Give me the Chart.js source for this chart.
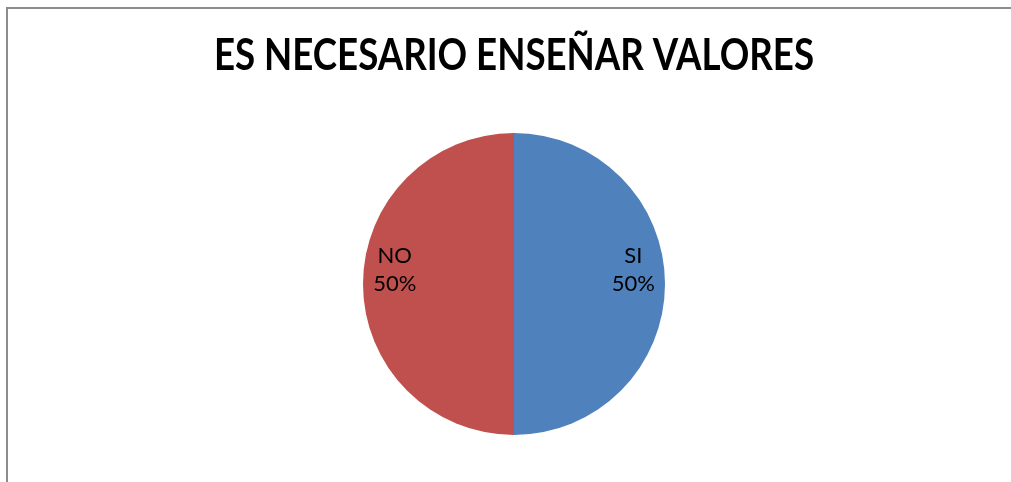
<!DOCTYPE html>
<html>
<head>
<meta charset="utf-8">
<script src="https://cdn.jsdelivr.net/npm/chart.js@4/dist/chart.umd.min.js"></script>
<style>
  html, body { margin: 0; padding: 0; background: #fff; }
  #wrap { position: relative; width: 1011px; height: 482px; }
</style>
</head>
<body>
<div id="wrap"><canvas id="pie" width="1011" height="482"></canvas></div>
<script>
  // data
  const labels = ['SI', 'NO'];
  const values = [50, 50];
  const colors = ['#4F81BD', '#C0504D'];
  const titleText = 'ES NECESARIO ENSEÑAR VALORES';

  // frame + title drawn on canvas
  const frame = {
    id: 'frame',
    beforeDraw(chart) {
      const c = chart.ctx;
      c.save();
      c.fillStyle = '#fff';
      c.fillRect(0, 0, chart.width, chart.height);
      c.strokeStyle = '#8c8c8c';
      c.lineWidth = 2;
      c.beginPath();
      c.moveTo(7, chart.height + 2);
      c.lineTo(7, 8);
      c.lineTo(chart.width + 2, 8);
      c.stroke();
      c.fillStyle = '#000';
      c.font = 'bold 44px Lato, "Open Sans", sans-serif';
      c.textAlign = 'center';
      c.textBaseline = 'alphabetic';
      // squeeze to the narrow width of the original title
      c.fillText(titleText, 514, 70, 600);
      c.restore();
    }
  };

  // labels inside slices: name + percent
  const sliceLabels = {
    id: 'sliceLabels',
    afterDatasetsDraw(chart) {
      const c = chart.ctx;
      const meta = chart.getDatasetMeta(0);
      const total = values.reduce((a, b) => a + b, 0);
      c.save();
      c.fillStyle = '#000';
      c.font = '22px Lato, "Open Sans", sans-serif';
      c.textAlign = 'center';
      c.textBaseline = 'middle';
      meta.data.forEach((arc, i) => {
        const p = arc.getProps(['x', 'y', 'startAngle', 'endAngle', 'outerRadius'], true);
        const mid = (p.startAngle + p.endAngle) / 2;
        const r = p.outerRadius * 0.79;
        const x = p.x + Math.cos(mid) * r;
        const y = p.y + Math.sin(mid) * r - 15;
        const pct = Math.round(values[i] / total * 100) + '%';
        c.fillText(labels[i], x, y - 13);
        c.fillText(pct, x, y + 15);
      });
      c.restore();
    }
  };

  new Chart(document.getElementById('pie'), {
    type: 'pie',
    data: {
      labels: labels,
      datasets: [{ data: values, backgroundColor: colors, borderWidth: 0 }]
    },
    options: {
      responsive: false,
      animation: false,
      layout: { padding: { top: 133, bottom: 47, left: 17, right: 0 } },
      plugins: {
        legend: { display: false },
        title: { display: false },
        tooltip: { enabled: false }
      }
    },
    plugins: [frame, sliceLabels]
  });
</script>
</body>
</html>
